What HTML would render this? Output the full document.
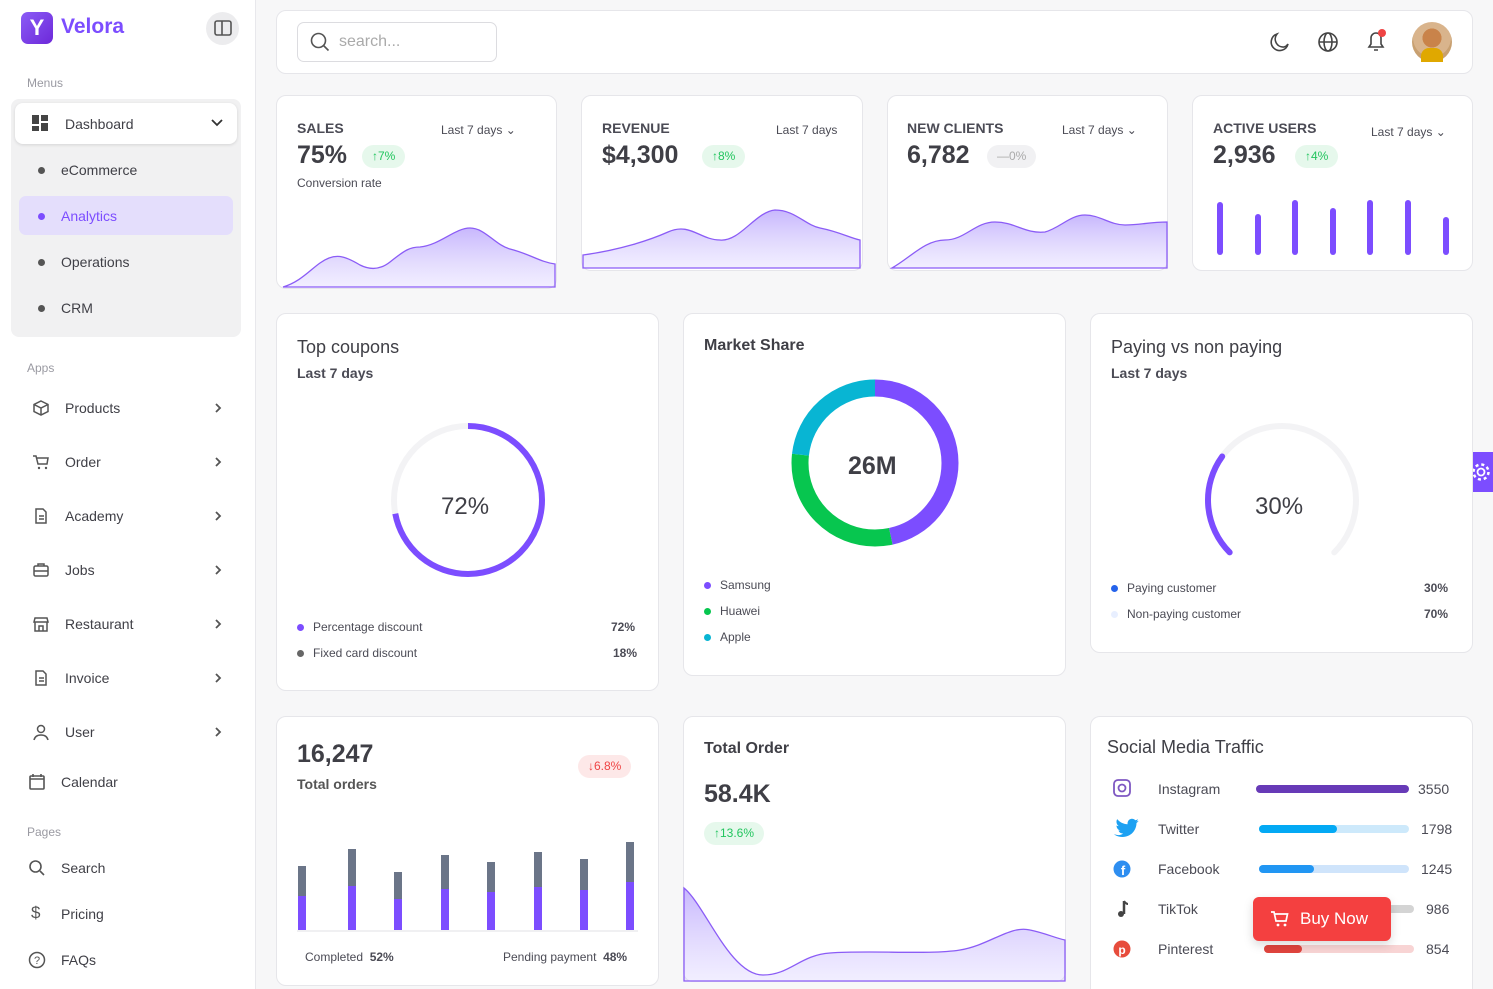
<!DOCTYPE html>
<html><head><meta charset="utf-8"><style>
*{box-sizing:border-box;margin:0;padding:0}
html{overflow:hidden;width:1493px;height:989px}
body{width:1493px;height:989px;overflow:hidden;background:#f7f7f8;font-family:"Liberation Sans",sans-serif;color:#4b4b55;position:relative}
.a{position:absolute}
.card{position:absolute;background:#fff;border:1px solid #e6e6ea;border-radius:10px}
.t{position:absolute;white-space:nowrap}
.sb{position:absolute;left:0;top:0;width:256px;height:989px;background:#fff;border-right:1px solid #e8e8ec}
.mi{position:absolute;left:65px;font-size:14px;color:#3f3f46}
.ic{position:absolute;left:32px;width:18px;height:18px}
.chev{position:absolute;left:213px;width:10px;height:10px}
.badge{position:absolute;border-radius:12px;font-size:12px;padding:4px 10px;line-height:15px}
.g{background:#e6f8ec;color:#22c55e}
.lbl{font-size:14px;color:#4b4b55;font-weight:bold}
.big{font-size:25px;font-weight:bold;color:#3f3f46}
.dot{position:absolute;width:7px;height:7px;border-radius:50%}
.sm{font-size:12px;color:#4b4b55}
</style></head><body>

<div class="sb">
 <div class="a" style="left:21px;top:12px;width:32px;height:32px;border-radius:7px;background:linear-gradient(135deg,#8b5cf6,#6d28d9);color:#fff;font-weight:bold;font-size:22px;text-align:center;line-height:32px">Y</div>
 <div class="t" style="left:61px;top:15px;font-size:21px;font-weight:bold;color:#7c4dff">Velora</div>
 <div class="a" style="left:206px;top:12px;width:33px;height:33px;border-radius:50%;background:#ececee"></div>
 <svg class="a" style="left:214px;top:20px" width="18" height="16"><rect x="1" y="1" width="16" height="14" rx="2" fill="none" stroke="#555" stroke-width="1.6"/><line x1="8" y1="1" x2="8" y2="15" stroke="#555" stroke-width="1.6"/></svg>
 <div class="t" style="left:27px;top:76px;font-size:12px;color:#9a9aa2">Menus</div>
 <div class="a" style="left:11px;top:99px;width:230px;height:238px;background:#f1f1f2;border-radius:8px"></div>
 <div class="a" style="left:15px;top:103px;width:222px;height:41px;background:#fff;border-radius:8px;box-shadow:0 1px 3px rgba(0,0,0,.12)"></div>
 <svg class="a" style="left:32px;top:115px" width="16" height="16"><rect x="0" y="0" width="7" height="9" fill="#444"/><rect x="9" y="0" width="7" height="6" fill="#444"/><rect x="0" y="11" width="7" height="5" fill="#444"/><rect x="9" y="8" width="7" height="8" fill="#444"/></svg>
 <div class="mi" style="top:116px">Dashboard</div>
 <svg class="a" style="left:211px;top:119px" width="12" height="8"><path d="M1 1l5 5 5-5" fill="none" stroke="#333" stroke-width="1.8"/></svg>
 <div class="a" style="left:19px;top:196px;width:214px;height:39px;background:#e4defc;border-radius:7px"></div>
 <div class="dot" style="left:38px;top:167px;background:#555"></div><div class="mi" style="left:61px;top:162px">eCommerce</div>
 <div class="dot" style="left:38px;top:213px;background:#7c4dff"></div><div class="mi" style="left:61px;top:208px;color:#7c4dff">Analytics</div>
 <div class="dot" style="left:38px;top:259px;background:#555"></div><div class="mi" style="left:61px;top:254px">Operations</div>
 <div class="dot" style="left:38px;top:305px;background:#555"></div><div class="mi" style="left:61px;top:300px">CRM</div>
 <div class="t" style="left:27px;top:361px;font-size:12px;color:#9a9aa2">Apps</div>
 <svg class="ic" style="top:399px" viewBox="0 0 18 18"><path d="M9 2l7 3.5v7L9 16 2 12.5v-7z M2 5.5L9 9l7-3.5 M9 9v7" fill="none" stroke="#555" stroke-width="1.5"/></svg><div class="mi" style="top:400px">Products</div><svg class="chev" style="top:403px"><path d="M3 1l4 4-4 4" fill="none" stroke="#555" stroke-width="1.8"/></svg>
 <svg class="ic" style="top:453px" viewBox="0 0 18 18"><path d="M1 3h3l2 8h9l1-6H5" fill="none" stroke="#555" stroke-width="1.5"/><circle cx="7" cy="15" r="1.2" fill="#555"/><circle cx="14" cy="15" r="1.2" fill="#555"/></svg><div class="mi" style="top:454px">Order</div><svg class="chev" style="top:457px"><path d="M3 1l4 4-4 4" fill="none" stroke="#555" stroke-width="1.8"/></svg>
 <svg class="ic" style="top:507px" viewBox="0 0 18 18"><path d="M4 2h7l3 3v11H4z M7 9h5 M7 12h5" fill="none" stroke="#555" stroke-width="1.5"/></svg><div class="mi" style="top:508px">Academy</div><svg class="chev" style="top:511px"><path d="M3 1l4 4-4 4" fill="none" stroke="#555" stroke-width="1.8"/></svg>
 <svg class="ic" style="top:561px" viewBox="0 0 18 18"><rect x="2" y="5" width="14" height="10" rx="1.5" fill="none" stroke="#555" stroke-width="1.5"/><path d="M6 5V3h6v2 M2 10h14" fill="none" stroke="#555" stroke-width="1.5"/></svg><div class="mi" style="top:562px">Jobs</div><svg class="chev" style="top:565px"><path d="M3 1l4 4-4 4" fill="none" stroke="#555" stroke-width="1.8"/></svg>
 <svg class="ic" style="top:615px" viewBox="0 0 18 18"><path d="M3 3h12l1 4H2z M3 7v9h12V7 M7 16v-5h4v5" fill="none" stroke="#555" stroke-width="1.5"/></svg><div class="mi" style="top:616px">Restaurant</div><svg class="chev" style="top:619px"><path d="M3 1l4 4-4 4" fill="none" stroke="#555" stroke-width="1.8"/></svg>
 <svg class="ic" style="top:669px" viewBox="0 0 18 18"><path d="M4 2h7l3 3v11H4z M7 9h5 M7 12h5" fill="none" stroke="#555" stroke-width="1.5"/></svg><div class="mi" style="top:670px">Invoice</div><svg class="chev" style="top:673px"><path d="M3 1l4 4-4 4" fill="none" stroke="#555" stroke-width="1.8"/></svg>
 <svg class="ic" style="top:723px" viewBox="0 0 18 18"><circle cx="9" cy="6" r="3.5" fill="none" stroke="#555" stroke-width="1.5"/><path d="M2 17c1-4 4-5 7-5s6 1 7 5" fill="none" stroke="#555" stroke-width="1.5"/></svg><div class="mi" style="top:724px">User</div><svg class="chev" style="top:727px"><path d="M3 1l4 4-4 4" fill="none" stroke="#555" stroke-width="1.8"/></svg>
 <svg class="ic" style="left:28px;top:773px" viewBox="0 0 18 18"><rect x="2" y="3" width="14" height="13" rx="1" fill="none" stroke="#555" stroke-width="1.6"/><path d="M2 6h14 M5 1v3 M13 1v3" stroke="#555" stroke-width="1.6"/></svg><div class="mi" style="left:61px;top:774px">Calendar</div>
 <div class="t" style="left:27px;top:825px;font-size:12px;color:#9a9aa2">Pages</div>
 <svg class="ic" style="left:28px;top:859px" viewBox="0 0 18 18"><circle cx="7.5" cy="7.5" r="5.5" fill="none" stroke="#555" stroke-width="1.6"/><path d="M12 12l4 4" stroke="#555" stroke-width="1.6"/></svg><div class="mi" style="left:61px;top:860px">Search</div>
 <div class="t" style="left:31px;top:903px;font-size:17px;color:#555">$</div><div class="mi" style="left:61px;top:906px">Pricing</div>
 <svg class="ic" style="left:28px;top:951px" viewBox="0 0 18 18"><circle cx="9" cy="9" r="7.5" fill="none" stroke="#555" stroke-width="1.5"/><text x="9" y="13" font-size="11" text-anchor="middle" fill="#555" font-family="Liberation Sans">?</text></svg><div class="mi" style="left:61px;top:952px">FAQs</div>
</div>

<!-- header -->
<div class="card" style="left:276px;top:10px;width:1197px;height:64px"></div>
<div class="a" style="left:297px;top:22px;width:200px;height:40px;border:1px solid #dcdce0;border-radius:7px"></div>
<svg class="a" style="left:310px;top:32px" width="20" height="20"><circle cx="8.5" cy="8.5" r="7" fill="none" stroke="#555" stroke-width="1.6"/><path d="M13.5 13.5l5 5" stroke="#555" stroke-width="1.6"/></svg>
<div class="t" style="left:339px;top:33px;font-size:16px;color:#aaa">search...</div>
<svg class="a" style="left:1269px;top:31px" width="22" height="22"><path d="M15 16A8 8 0 0 1 8 3a8.5 8.5 0 1 0 11 10 7 7 0 0 1-4 3z" fill="none" stroke="#444" stroke-width="1.6"/></svg>
<svg class="a" style="left:1317px;top:31px" width="22" height="22"><circle cx="11" cy="11" r="9" fill="none" stroke="#444" stroke-width="1.6"/><ellipse cx="11" cy="11" rx="4" ry="9" fill="none" stroke="#444" stroke-width="1.6"/><path d="M2 11h18" stroke="#444" stroke-width="1.6"/></svg>
<svg class="a" style="left:1365px;top:28px" width="24" height="26"><path d="M4 19h14l-2-3V10a5 5 0 0 0-10 0v6z M9 22h4" fill="none" stroke="#444" stroke-width="1.6"/><circle cx="17" cy="5" r="4" fill="#ef4444"/></svg>
<div class="a" style="left:1412px;top:22px;width:40px;height:40px;border-radius:50%;background:radial-gradient(circle at 50% 40%,#c9834a 0 30%,#d9b48c 31% 60%,#c8a070 61%)"></div>
<div class="a" style="left:1421px;top:48px;width:22px;height:14px;border-radius:8px 8px 0 0;background:#e0a800"></div>
<div class="a" style="left:1461px;top:452px;width:34px;height:40px;background:#7c4dff;border-radius:8px 0 0 8px"></div>
<svg class="a" style="left:1470px;top:461px" width="22" height="22"><circle cx="11" cy="11" r="3.5" fill="none" stroke="#fff" stroke-width="1.8"/><circle cx="11" cy="11" r="7.5" fill="none" stroke="#fff" stroke-width="2.5" stroke-dasharray="3 2.9"/></svg>

<!-- row1 -->
<div class="card" style="left:276px;top:95px;width:281px;height:194px"></div>
<div class="card" style="left:581px;top:95px;width:282px;height:176px"></div>
<div class="card" style="left:887px;top:95px;width:281px;height:176px"></div>
<div class="card" style="left:1192px;top:95px;width:281px;height:176px"></div>

<div class="t lbl" style="left:297px;top:120px">SALES</div>
<div class="t sm" style="left:441px;top:123px">Last 7 days ⌄</div>
<div class="t big" style="left:297px;top:141px">75%</div>
<div class="badge g" style="left:362px;top:145px">↑7%</div>
<div class="t sm" style="left:297px;top:176px">Conversion rate</div>

<div class="t lbl" style="left:602px;top:120px">REVENUE</div>
<div class="t sm" style="left:776px;top:123px">Last 7 days</div>
<div class="t big" style="left:602px;top:141px">$4,300</div>
<div class="badge g" style="left:702px;top:145px">↑8%</div>

<div class="t lbl" style="left:907px;top:120px">NEW CLIENTS</div>
<div class="t sm" style="left:1062px;top:123px">Last 7 days ⌄</div>
<div class="t big" style="left:907px;top:141px">6,782</div>
<div class="badge" style="left:987px;top:145px;background:#f1f1f3;color:#aaa">—0%</div>

<div class="t lbl" style="left:1213px;top:120px">ACTIVE USERS</div>
<div class="t sm" style="left:1371px;top:125px">Last 7 days ⌄</div>
<div class="t big" style="left:1213px;top:141px">2,936</div>
<div class="badge g" style="left:1295px;top:145px">↑4%</div>

<svg class="a" style="left:0;top:0" width="1493" height="989">
 <defs><linearGradient id="pg" x1="0" y1="0" x2="0" y2="1"><stop offset="0" stop-color="#9a7cfb" stop-opacity=".55"/><stop offset="1" stop-color="#c9bbff" stop-opacity=".25"/></linearGradient></defs>
 <path d="M283 287 C300 282 310 270 320 263 C335 252 345 256 360 265 C370 270 380 270 390 262 C405 250 410 247 420 247 C440 245 455 228 470 228 C485 228 495 245 510 249 C530 254 540 262 555 264 L555 287 Z" fill="url(#pg)" stroke="#8b5cf6" stroke-width="1.3"/>
 <path d="M583 255 C620 250 650 240 668 232 C690 222 700 240 720 240 C740 242 755 212 775 210 C795 210 805 225 820 228 C840 232 850 238 860 240 L860 268 L583 268 Z" fill="url(#pg)" stroke="#8b5cf6" stroke-width="1.3"/>
 <path d="M892 268 C910 258 925 240 945 240 C965 240 975 222 995 222 C1015 222 1025 234 1045 232 C1060 228 1070 215 1085 215 C1100 215 1110 225 1125 225 C1140 225 1150 222 1167 222 L1167 268 L892 268 Z" fill="url(#pg)" stroke="#8b5cf6" stroke-width="1.3"/>
 <g stroke="#7c4dff" stroke-width="6" stroke-linecap="round">
  <line x1="1220" y1="205" x2="1220" y2="252"/><line x1="1258" y1="217" x2="1258" y2="252"/><line x1="1295" y1="203" x2="1295" y2="252"/><line x1="1333" y1="211" x2="1333" y2="252"/><line x1="1370" y1="203" x2="1370" y2="252"/><line x1="1408" y1="203" x2="1408" y2="252"/><line x1="1446" y1="220" x2="1446" y2="252"/>
 </g>
</svg>

<!-- row2 -->
<div class="card" style="left:276px;top:313px;width:383px;height:378px"></div>
<div class="card" style="left:683px;top:313px;width:383px;height:363px"></div>
<div class="card" style="left:1090px;top:313px;width:383px;height:340px"></div>

<div class="t" style="left:297px;top:337px;font-size:18px;color:#3f3f46">Top coupons</div>
<div class="t lbl" style="left:297px;top:365px">Last 7 days</div>
<div class="t" style="left:441px;top:493px;font-size:24px;color:#3f3f46">72%</div>
<div class="dot" style="left:297px;top:624px;background:#7c4dff"></div><div class="t sm" style="left:313px;top:620px">Percentage discount</div><div class="t sm" style="left:611px;top:620px;font-weight:bold">72%</div>
<div class="dot" style="left:297px;top:650px;background:#666"></div><div class="t sm" style="left:313px;top:646px">Fixed card discount</div><div class="t sm" style="left:613px;top:646px;font-weight:bold">18%</div>

<div class="t" style="left:704px;top:337px;font-size:16px;font-weight:bold;color:#3f3f46">Market Share</div>
<div class="t" style="left:848px;top:452px;font-size:25px;font-weight:bold;color:#3f3f46">26M</div>
<div class="dot" style="left:704px;top:582px;background:#7c4dff"></div><div class="t sm" style="left:720px;top:578px">Samsung</div>
<div class="dot" style="left:704px;top:608px;background:#07c64f"></div><div class="t sm" style="left:720px;top:604px">Huawei</div>
<div class="dot" style="left:704px;top:634px;background:#08b5d3"></div><div class="t sm" style="left:720px;top:630px">Apple</div>

<div class="t" style="left:1111px;top:337px;font-size:18px;color:#3f3f46">Paying vs non paying</div>
<div class="t lbl" style="left:1111px;top:365px">Last 7 days</div>
<div class="t" style="left:1255px;top:493px;font-size:24px;color:#3f3f46">30%</div>
<div class="dot" style="left:1111px;top:585px;background:#2563eb"></div><div class="t sm" style="left:1127px;top:581px">Paying customer</div><div class="t sm" style="left:1424px;top:581px;font-weight:bold">30%</div>
<div class="dot" style="left:1111px;top:611px;background:#e8efff"></div><div class="t sm" style="left:1127px;top:607px">Non-paying customer</div><div class="t sm" style="left:1424px;top:607px;font-weight:bold">70%</div>

<svg class="a" style="left:0;top:0" width="1493" height="989">
 <circle cx="468" cy="500" r="74" fill="none" stroke="#f3f3f5" stroke-width="6"/>
 <circle cx="468" cy="500" r="74" fill="none" stroke="#7c4dff" stroke-width="6" stroke-dasharray="334.8 500" transform="rotate(-90 468 500)"/>
 <g transform="rotate(-90 875 463)" fill="none" stroke-width="17">
  <circle cx="875" cy="463" r="75" stroke="#7c4dff" stroke-dasharray="219.6 500"/>
  <circle cx="875" cy="463" r="75" stroke="#07c64f" stroke-dasharray="0 219.6 142 500"/>
  <circle cx="875" cy="463" r="75" stroke="#08b5d3" stroke-dasharray="0 361.6 110 500"/>
 </g>
 <g transform="rotate(135 1282 500)" fill="none" stroke-width="6" stroke-linecap="round">
  <circle cx="1282" cy="500" r="74" stroke="#f3f3f5" stroke-dasharray="348.7 500"/>
  <circle cx="1282" cy="500" r="74" stroke="#7c4dff" stroke-dasharray="104.6 500"/>
 </g>
</svg>

<!-- row3 -->
<div class="card" style="left:276px;top:716px;width:383px;height:270px"></div>
<div class="card" style="left:683px;top:716px;width:383px;height:266px"></div>
<div class="card" style="left:1090px;top:716px;width:383px;height:290px"></div>

<div class="t" style="left:297px;top:740px;font-size:25px;font-weight:bold;color:#3f3f46">16,247</div>
<div class="t" style="left:297px;top:776px;font-size:14px;font-weight:bold;color:#555">Total orders</div>
<div class="badge" style="left:578px;top:755px;background:#fde8e8;color:#ef4444">↓6.8%</div>
<div class="t sm" style="left:305px;top:950px">Completed &nbsp;<b>52%</b></div>
<div class="t sm" style="left:503px;top:950px">Pending payment &nbsp;<b>48%</b></div>

<div class="t" style="left:704px;top:740px;font-size:16px;font-weight:bold;color:#3f3f46">Total Order</div>
<div class="t big" style="left:704px;top:780px">58.4K</div>
<div class="badge g" style="left:704px;top:822px">↑13.6%</div>

<div class="t" style="left:1107px;top:737px;font-size:18px;color:#3f3f46">Social Media Traffic</div>
<div class="t" style="left:1158px;top:781px;font-size:14px">Instagram</div><div class="t" style="left:1418px;top:781px;font-size:14px">3550</div>
<div class="t" style="left:1158px;top:821px;font-size:14px">Twitter</div><div class="t" style="left:1421px;top:821px;font-size:14px">1798</div>
<div class="t" style="left:1158px;top:861px;font-size:14px">Facebook</div><div class="t" style="left:1421px;top:861px;font-size:14px">1245</div>
<div class="t" style="left:1158px;top:901px;font-size:14px">TikTok</div><div class="t" style="left:1426px;top:901px;font-size:14px">986</div>
<div class="t" style="left:1158px;top:941px;font-size:14px">Pinterest</div><div class="t" style="left:1426px;top:941px;font-size:14px">854</div>

<svg class="a" style="left:0;top:0" width="1493" height="989">
 <g stroke-width="8" stroke-linecap="butt">
  <line x1="302" y1="866" x2="302" y2="930" stroke="#6b7588"/><line x1="302" y1="896" x2="302" y2="930" stroke="#7c4dff"/>
  <line x1="352" y1="849" x2="352" y2="930" stroke="#6b7588"/><line x1="352" y1="886" x2="352" y2="930" stroke="#7c4dff"/>
  <line x1="398" y1="872" x2="398" y2="930" stroke="#6b7588"/><line x1="398" y1="899" x2="398" y2="930" stroke="#7c4dff"/>
  <line x1="445" y1="855" x2="445" y2="930" stroke="#6b7588"/><line x1="445" y1="889" x2="445" y2="930" stroke="#7c4dff"/>
  <line x1="491" y1="862" x2="491" y2="930" stroke="#6b7588"/><line x1="491" y1="892" x2="491" y2="930" stroke="#7c4dff"/>
  <line x1="538" y1="852" x2="538" y2="930" stroke="#6b7588"/><line x1="538" y1="887" x2="538" y2="930" stroke="#7c4dff"/>
  <line x1="584" y1="859" x2="584" y2="930" stroke="#6b7588"/><line x1="584" y1="890" x2="584" y2="930" stroke="#7c4dff"/>
  <line x1="630" y1="842" x2="630" y2="930" stroke="#6b7588"/><line x1="630" y1="882" x2="630" y2="930" stroke="#7c4dff"/>
 </g>
 <line x1="297" y1="931" x2="638" y2="931" stroke="#e2e2e6"/>
 <path d="M684 888 C705 905 730 975 763 975 C790 975 800 955 830 953 C870 950 930 955 960 950 C990 945 1010 925 1030 930 C1045 933 1055 938 1065 940 L1065 981 L684 981 Z" fill="url(#pg)" stroke="#8b5cf6" stroke-width="1.3"/>
 <g stroke-width="8" stroke-linecap="round">
  <line x1="1260" y1="789" x2="1405" y2="789" stroke="#673ab7"/>
  <line x1="1263" y1="829" x2="1405" y2="829" stroke="#cde9fb"/><line x1="1263" y1="829" x2="1333" y2="829" stroke="#03a9f4"/>
  <line x1="1263" y1="869" x2="1405" y2="869" stroke="#cfe4fb"/><line x1="1263" y1="869" x2="1310" y2="869" stroke="#2196f3"/>
  <line x1="1260" y1="909" x2="1410" y2="909" stroke="#d4d4d4"/>
  <line x1="1268" y1="949" x2="1410" y2="949" stroke="#f8d4d4"/><line x1="1268" y1="949" x2="1298" y2="949" stroke="#e0443e"/>
 </g>
 <rect x="1114" y="780" width="16" height="16" rx="4" fill="none" stroke="#7e57c2" stroke-width="1.8"/><circle cx="1122" cy="788" r="3.5" fill="none" stroke="#7e57c2" stroke-width="1.8"/>
 <path d="M1114 834c3 1.5 7 1.5 9-0.5-2.5 0-4-1.5-4.5-3h2c-2.5-.5-4-2.5-4-5 .7.4 1.5.6 2.3.6-2.3-1.6-3-4.6-1.6-7 2.6 3.2 6.4 5 10.4 5.2-.5-2.6 1.3-5.2 4-5.5 1.4-.1 2.7.4 3.6 1.4 1-.2 2-.6 2.8-1-.3 1-1 1.8-1.8 2.3.9-.1 1.7-.3 2.5-.7-.6.9-1.3 1.6-2.2 2.2 0 7-5.4 14-14 14-2.6 0-5.4-.8-7.5-2z" fill="#1da1f2"/>
 <circle cx="1122" cy="869" r="8.5" fill="#2e8ef0"/><text x="1123" y="875" font-size="13" font-weight="bold" fill="#fff" text-anchor="middle" font-family="Liberation Sans">f</text>
 <path d="M1124 901v13" stroke="#444" stroke-width="2.5"/><circle cx="1121" cy="914" r="3" fill="#444"/><path d="M1124 901c1 2 3 3 4 3" stroke="#444" stroke-width="2" fill="none"/>
 <circle cx="1122" cy="949" r="8.5" fill="#e74c3c"/><text x="1122" y="954" font-size="12" font-weight="bold" fill="#fff" text-anchor="middle" font-family="Liberation Sans">p</text>
</svg>

<div class="a" style="left:1253px;top:897px;width:138px;height:44px;background:#f44040;border-radius:6px;box-shadow:0 4px 10px rgba(0,0,0,.15)"></div>
<svg class="a" style="left:1270px;top:910px" width="20" height="18"><path d="M1 2h3l2 9h10l1.5-7H5" fill="none" stroke="#fff" stroke-width="1.7"/><circle cx="8" cy="15" r="1.4" fill="#fff"/><circle cx="15" cy="15" r="1.4" fill="#fff"/></svg>
<div class="t" style="left:1300px;top:909px;font-size:17px;color:#fff">Buy Now</div>
</body></html>
